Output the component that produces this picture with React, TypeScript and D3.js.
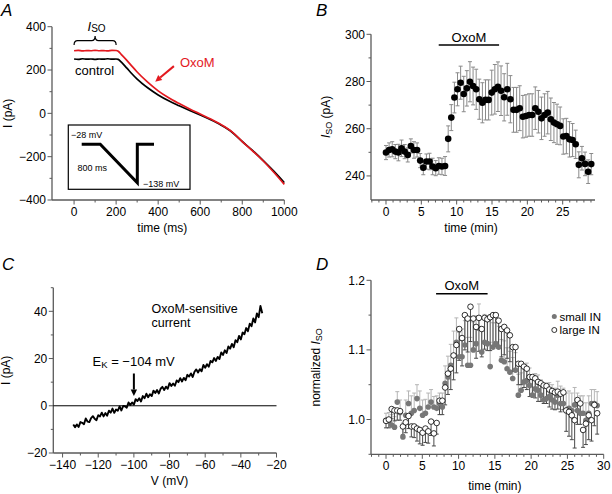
import React from 'react'
import * as d3 from 'd3'

const FONT = '"Liberation Sans", Arial, Helvetica, sans-serif'
const RED = '#e3191f'
const AXIS = '#5a5a5a'
const TICK_FS = 12
const LABEL_FS = 12
const NOTE_FS = 13

// ---- Panel A: ramp currents (ms, pA)
const rampTime = [0, 20, 40, 60, 80, 100, 120, 140, 160, 180, 200, 210, 225, 250, 275, 300, 350, 400, 450, 500, 550, 600, 650, 700, 750, 800, 850, 900, 950, 1000]
const controlCurrent = [251, 249, 252, 250, 251, 249, 251, 250, 252, 250, 251, 249, 236, 210, 183, 158, 118, 85, 58, 35, 13, -8, -30, -55, -86, -130, -172, -218, -267, -320]
const oxomCurrent = [289, 291, 288, 290, 289, 291, 289, 290, 288, 291, 290, 287, 271, 246, 218, 191, 144, 104, 72, 45, 20, -3, -26, -52, -84, -130, -174, -220, -272, -328]
const aTimeTicks = [0, 200, 400, 600, 800, 1000]
const aCurrentTicks = [-400, -200, 0, 200, 400]
// schematic voltage protocol of the inset
const protocolTime = [0, 50, 150, 150, 195]
const protocolVoltage = [-28, -28, -138, -28, -28]

// ---- Panel B: I_SO time course (pA)
const bInterval = 0.44
const bValues = [249.9, 251, 251.3, 250.3, 249.9, 251.7, 250.3, 248.9, 252.7, 251, 251, 246.5, 243.5, 246.1, 246.1, 244, 243.3, 244.2, 244, 244.2,
  255.7, 264.7, 273.2, 276.7, 279.5, 274.7, 277.1, 279.9, 278.1, 276.7, 272.5, 271, 272.2, 272.2, 275.3, 276.7, 277.8, 276.1, 273.3, 276.7,
  272.5, 268, 268, 268.7, 265.1, 265.4, 265.8, 265.8, 268.7, 267.2, 264.4, 265.8, 266.8, 264, 262.6, 261.9, 261.2, 256.7, 256.9, 255.5,
  255.2, 253.4, 244.7, 247.5, 245.1, 241.8, 245]
const bErrors = [3, 3, 3.2, 3, 3.5, 3.5, 3, 3, 3, 3.5, 3, 3, 3, 3.2, 3.5, 3.5, 3.2, 3.5, 3.5, 4,
  5.5, 5.5, 6.5, 7, 7, 7.5, 7.5, 8.5, 8, 8.5, 8.5, 8.5, 8.5, 8.5, 9.5, 10.5, 10.5, 10.5, 10, 11,
  10, 9.5, 9.5, 9.5, 9, 9, 9, 9, 9, 9, 9, 9, 9, 9, 8.5, 8.5, 8, 7.5, 7.5, 7.5,
  7, 6, 5.5, 5, 5, 5, 4.5]
const bTimeTicks = [0, 5, 10, 15, 20, 25]
const bCurrentTicks = [240, 260, 280, 300]
const bOxoM = [7.46, 16.0]

// ---- Panel C: OxoM-sensitive current (1 mV steps)
const cVoltageStart = -134
const cCurrent = [-7.9, -9.1, -7.9, -9.0, -6.9, -7.2, -7.8, -5.4, -6.7, -6.9,
  -5.2, -4.4, -5.5, -6.1, -4.0, -4.5, -2.9, -4.5, -3.1, -4.2,
  -2.1, -2.9, -1.2, -3.0, -1.6, -2.1, -0.3, -2.0, -0.1, -0.2,
  -0.8, 1.4, 0.3, 1.4, 0.5, 2.8, 2.0, 3.2, 1.8, 4.1,
  3.2, 5.1, 3.6, 4.9, 4.1, 6.4, 5.4, 6.7, 5.2, 7.2,
  8.0, 6.7, 8.1, 7.2, 9.6, 8.4, 9.4, 8.5, 10.7, 10.0,
  11.7, 10.3, 11.8, 10.8, 13.1, 12.4, 13.7, 12.2, 14.4, 15.4,
  14.1, 15.5, 14.6, 17.3, 16.1, 17.6, 16.5, 19.0, 18.4, 20.2,
  19.0, 20.7, 19.8, 22.6, 21.5, 23.5, 22.3, 25.1, 24.2, 26.2,
  24.8, 27.8, 26.9, 29.6, 28.1, 31.0, 30.3, 32.9, 31.6, 34.8,
  33.7, 37.0, 35.3, 39.1, 37.5, 42.3, 39.2]
const cVoltageTicks = [-140, -120, -100, -80, -60, -40, -20]
const cCurrentTicks = [-20, 0, 20, 40]

// ---- Panel D: normalized I_SO
const dInterval = 0.388
const dSmall = [0.999, 0.998, 0.992, 0.989, 1.025, 1.010, 0.975, 1.006, 1.023, 1.009,
  1.013, 1.030, 1.016, 1.006, 1.009, 1.018, 1.025, 1.018, 1.016, 1.023,
  1.018, 1.052, 1.061, 1.078, 1.092, 1.111, 1.090, 1.090, 1.107, 1.078,
  1.078, 1.100, 1.109, 1.131, 1.097, 1.111, 1.109, 1.076, 1.104, 1.109,
  1.104, 1.085, 1.083, 1.073, 1.068, 1.059, 1.071, 1.035, 1.042, 1.054,
  1.056, 1.049, 1.035, 1.044, 1.042, 1.035, 1.028, 1.030, 1.033, 1.028,
  1.025, 1.035, 1.023, 1.023, 1.013, 1.016, 1.013, 1.021, 1.013, 1.009,
  1.009, 0.999, 1.009, 1.023, 1.023, 1.020]
const dSmallErr = [0.010, 0.012, 0.015, 0.015, 0.015, 0.018, 0.020, 0.022, 0.018, 0.025,
  0.025, 0.020, 0.025, 0.022, 0.020, 0.020, 0.018, 0.015, 0.018, 0.015,
  0.020, 0.025, 0.030, 0.030, 0.035, 0.035, 0.035, 0.040, 0.035, 0.040,
  0.040, 0.040, 0.040, 0.035, 0.035, 0.040, 0.040, 0.035, 0.035, 0.030,
  0.030, 0.030, 0.030, 0.030, 0.030, 0.030, 0.025, 0.030, 0.025, 0.025,
  0.025, 0.025, 0.025, 0.022, 0.022, 0.022, 0.022, 0.022, 0.020, 0.022,
  0.020, 0.020, 0.025, 0.022, 0.025, 0.025, 0.025, 0.025, 0.025, 0.025,
  0.025, 0.025, 0.025, 0.020, 0.020, 0.020]
const dLarge = [0.998, 1.000, 1.015, 1.013, 1.013, 1.012, 0.990, 0.996, 1.005, 0.990,
  0.990, 0.987, 0.985, 0.981, 0.987, 0.983, 0.997, 0.980, 0.995, 1.027,
  1.027, 1.046, 1.066, 1.073, 1.092, 1.107, 1.130, 1.117, 1.150, 1.145,
  1.162, 1.145, 1.133, 1.146, 1.130, 1.146, 1.144, 1.147, 1.150, 1.150,
  1.142, 1.130, 1.133, 1.128, 1.121, 1.104, 1.104, 1.080, 1.080, 1.076,
  1.073, 1.061, 1.061, 1.059, 1.054, 1.052, 1.049, 1.048, 1.043, 1.041,
  1.039, 1.040, 1.037, 1.039, 1.013, 1.011, 1.006, 0.999, 1.028, 1.023,
  0.985, 0.994, 1.006, 0.999, 1.021, 1.009]
const dLargeErr = [0.010, 0.012, 0.014, 0.015, 0.014, 0.013, 0.012, 0.015, 0.018, 0.015,
  0.016, 0.018, 0.020, 0.018, 0.020, 0.017, 0.020, 0.018, 0.016, 0.020,
  0.020, 0.025, 0.030, 0.030, 0.035, 0.040, 0.045, 0.040, 0.050, 0.048,
  0.050, 0.045, 0.045, 0.048, 0.040, 0.045, 0.045, 0.048, 0.045, 0.045,
  0.040, 0.040, 0.040, 0.040, 0.038, 0.035, 0.035, 0.030, 0.030, 0.030,
  0.030, 0.028, 0.028, 0.028, 0.028, 0.026, 0.026, 0.025, 0.025, 0.026,
  0.025, 0.025, 0.026, 0.025, 0.030, 0.035, 0.035, 0.040, 0.035, 0.030,
  0.025, 0.030, 0.035, 0.030, 0.030, 0.030]
const dTimeTicks = [0, 5, 10, 15, 20, 25, 30]
const dNormTicks = [1.0, 1.1, 1.2]
const dOxoM = [6.9, 14.0]

const minus = (v: number) => (v < 0 ? `\u2212${Math.abs(v)}` : `${v}`)

type Lin = d3.ScaleLinear<number, number>

function YAxis({ scale, x, majors, minors, fmt = minus }: { scale: Lin; x: number; majors: number[]; minors: number[]; fmt?: (v: number) => string }) {
  const [r0, r1] = scale.range()
  return (
    <g>
      <line x1={x} x2={x} y1={r0} y2={r1} stroke={AXIS} strokeWidth={1.3} />
      {minors.map((v) => (
        <line key={'m' + v} x1={x - 2.5} x2={x} y1={scale(v)} y2={scale(v)} stroke={AXIS} strokeWidth={1} />
      ))}
      {majors.map((v) => (
        <g key={v}>
          <line x1={x - 4.5} x2={x} y1={scale(v)} y2={scale(v)} stroke={AXIS} strokeWidth={1} />
          <text x={x - 6} y={scale(v)} dy="0.36em" textAnchor="end" fontSize={TICK_FS}>{fmt(v)}</text>
        </g>
      ))}
    </g>
  )
}

function XAxis({ scale, y, majors, minors, fmt = minus }: { scale: Lin; y: number; majors: number[]; minors: number[]; fmt?: (v: number) => string }) {
  const [r0, r1] = scale.range()
  return (
    <g>
      <line x1={r0} x2={r1} y1={y} y2={y} stroke={AXIS} strokeWidth={1.3} />
      {minors.map((v) => (
        <line key={'m' + v} x1={scale(v)} x2={scale(v)} y1={y} y2={y + 2.5} stroke={AXIS} strokeWidth={1} />
      ))}
      {majors.map((v) => (
        <g key={v}>
          <line x1={scale(v)} x2={scale(v)} y1={y} y2={y + 4.5} stroke={AXIS} strokeWidth={1} />
          <text x={scale(v)} y={y + 16} textAnchor="middle" fontSize={TICK_FS}>{fmt(v)}</text>
        </g>
      ))}
    </g>
  )
}

function Arrow({ x1, y1, x2, y2, color }: { x1: number; y1: number; x2: number; y2: number; color: string }) {
  const a = Math.atan2(y2 - y1, x2 - x1)
  const L = 6.5
  const W = 3.2
  const bx = x2 - L * Math.cos(a)
  const by = y2 - L * Math.sin(a)
  const px = -Math.sin(a) * W
  const py = Math.cos(a) * W
  return (
    <g>
      <line x1={x1} y1={y1} x2={bx} y2={by} stroke={color} strokeWidth={2} />
      <polygon points={`${x2},${y2} ${bx + px},${by + py} ${bx - px},${by - py}`} fill={color} />
    </g>
  )
}

export default function App() {
  // Panel A
  const xA = d3.scaleLinear().domain([-105, 1000]).range([52, 284.3])
  const yA = d3.scaleLinear().domain([-400, 400]).range([200, 26.7])
  const lineA = d3.line<number>().x((_, i) => xA(rampTime[i])).y((d) => yA(d)).curve(d3.curveMonotoneX)
  const xP = d3.scaleLinear().domain([0, 195]).range([81.7, 154])
  const yP = d3.scaleLinear().domain([-138, -28]).range([182.7, 144.3])
  const protoLine = d3.line<number>().x((_, i) => xP(protocolTime[i])).y((d) => yP(d))
  const bx0 = xA(0), bx1 = xA(200), bxm = (bx0 + bx1) / 2
  const braceY = 40.7
  const brace = `M${bx0},45 Q${bx0},${braceY} ${bx0 + 3.5},${braceY} L${bxm - 3.5},${braceY} Q${bxm},${braceY} ${bxm},36 Q${bxm},${braceY} ${bxm + 3.5},${braceY} L${bx1 - 3.5},${braceY} Q${bx1},${braceY} ${bx1},45`

  // Panel B
  const xB = d3.scaleLinear().domain([-2.12, 29.57]).range([371, 595])
  const yB = d3.scaleLinear().domain([229.8, 300]).range([200, 34.3])

  // Panel C
  const xC = d3.scaleLinear().domain([-145.2, -20]).range([53.3, 276.5])
  const yC = d3.scaleLinear().domain([-20, 50]).range([453, 287.7])
  const lineC = d3.line<number>().x((_, i) => xC(cVoltageStart + i)).y((d) => yC(d))

  // Panel D
  const xD = d3.scaleLinear().domain([-2.07, 30]).range([371, 603.7])
  const yD = d3.scaleLinear().domain([0.95, 1.2]).range([454.3, 280.3])

  const cap = 2

  return (
    <svg width={612} height={494} style={{ position: 'absolute', left: 0, top: 0, background: '#fff' }} fontFamily={FONT}>
      {/* ---------- A ---------- */}
      <text x={1} y={16} fontSize={17} fontStyle="italic">A</text>
      <YAxis scale={yA} x={52} majors={aCurrentTicks} minors={d3.range(-300, 400, 200)} />
      <XAxis scale={xA} y={200} majors={aTimeTicks} minors={d3.range(100, 1000, 200)} />
      <text transform={`translate(12,${yA(0)}) rotate(-90)`} textAnchor="middle" fontSize={LABEL_FS}>I (pA)</text>
      <text x={xA(420)} y={232} textAnchor="middle" fontSize={LABEL_FS}>time (ms)</text>
      <path d={lineA(controlCurrent) ?? ''} fill="none" stroke="#000" strokeWidth={1.7} />
      <path d={lineA(oxomCurrent) ?? ''} fill="none" stroke={RED} strokeWidth={1.7} />
      <path d={brace} fill="none" stroke="#000" strokeWidth={1.2} />
      <text x={87.5} y={30.5} fontSize={NOTE_FS} fontStyle="italic">I<tspan fontStyle="normal" fontSize={10} dy={1.5}>SO</tspan></text>
      <text x={75} y={74.5} fontSize={NOTE_FS}>control</text>
      <text x={180} y={67} fontSize={NOTE_FS} fill={RED}>OxoM</text>
      <Arrow x1={xA(475)} y1={yA(218)} x2={xA(386)} y2={yA(146)} color={RED} />
      <rect x={68.3} y={125} width={121.7} height={64.3} fill="#fff" stroke="#000" strokeWidth={1.2} />
      <path d={protoLine(protocolVoltage) ?? ''} fill="none" stroke="#000" strokeWidth={3} strokeLinejoin="miter" />
      <text x={71} y={138} fontSize={9}>{'\u221228 mV'}</text>
      <text x={77.5} y={171} fontSize={9}>800 ms</text>
      <text x={143} y={186.5} fontSize={9}>{'\u2212138 mV'}</text>

      {/* ---------- B ---------- */}
      <text x={316} y={16} fontSize={17} fontStyle="italic">B</text>
      <YAxis scale={yB} x={371} majors={bCurrentTicks} minors={[250, 270, 290]} />
      <XAxis scale={xB} y={200} majors={bTimeTicks} minors={d3.range(-2, 30, 1).filter((v) => v % 5 !== 0)} />
      <text transform={`translate(330,${yB(265)}) rotate(-90)`} textAnchor="middle" fontSize={LABEL_FS}>
        <tspan fontStyle="italic">I</tspan><tspan fontSize={9} dy={2}>SO</tspan><tspan dy={-2}> (pA)</tspan>
      </text>
      <text x={471} y={232} textAnchor="middle" fontSize={LABEL_FS}>time (min)</text>
      <line x1={xB(bOxoM[0])} x2={xB(bOxoM[1])} y1={45} y2={45} stroke="#000" strokeWidth={1.5} />
      <text x={(xB(bOxoM[0]) + xB(bOxoM[1])) / 2} y={42} textAnchor="middle" fontSize={NOTE_FS}>OxoM</text>
      {bValues.map((v, i) => {
        const x = xB(i * bInterval)
        const e = bErrors[i] ?? 3
        return (
          <g key={'be' + i} stroke="#8a8a8a" strokeWidth={1}>
            <line x1={x} x2={x} y1={yB(v - e)} y2={yB(v + e)} />
            <line x1={x - cap} x2={x + cap} y1={yB(v + e)} y2={yB(v + e)} />
            <line x1={x - cap} x2={x + cap} y1={yB(v - e)} y2={yB(v - e)} />
          </g>
        )
      })}
      {bValues.map((v, i) => (
        <circle key={'bp' + i} cx={xB(i * bInterval)} cy={yB(v)} r={3.3} fill="#000" />
      ))}

      {/* ---------- C ---------- */}
      <text x={2} y={270} fontSize={17} fontStyle="italic">C</text>
      <YAxis scale={yC} x={53.3} majors={cCurrentTicks} minors={[-10, 10, 30, 50]} />
      <XAxis scale={xC} y={453} majors={cVoltageTicks} minors={[-130, -110, -90, -70, -50, -30]} />
      <line x1={53.3} x2={276.5} y1={yC(0)} y2={yC(0)} stroke="#000" strokeWidth={1} />
      <text transform={`translate(10,${yC(15)}) rotate(-90)`} textAnchor="middle" fontSize={LABEL_FS}>I (pA)</text>
      <text x={xC(-80)} y={485} textAnchor="middle" fontSize={LABEL_FS}>V (mV)</text>
      <path d={lineC(cCurrent) ?? ''} fill="none" stroke="#000" strokeWidth={1.9} strokeLinejoin="round" />
      <text x={151.5} y={312.5} fontSize={12.5}>OxoM-sensitive</text>
      <text x={151.5} y={326.5} fontSize={12.5}>current</text>
      <text x={92.5} y={366} fontSize={NOTE_FS}>E<tspan fontSize={9.5} dy={2}>K</tspan><tspan dy={-2}>{' = \u2212104 mV'}</tspan></text>
      <Arrow x1={xC(-100)} y1={373.5} x2={xC(-100)} y2={396} color="#000" />

      {/* ---------- D ---------- */}
      <text x={316} y={270} fontSize={17} fontStyle="italic">D</text>
      <YAxis scale={yD} x={371} majors={dNormTicks} minors={[0.95, 1.05, 1.15]} fmt={(v) => v.toFixed(1)} />
      <XAxis scale={xD} y={454.3} majors={dTimeTicks} minors={d3.range(-2, 30, 1).filter((v) => v % 5 !== 0)} />
      <text transform={`translate(320,${yD(1.075)}) rotate(-90)`} textAnchor="middle" fontSize={LABEL_FS}>
        normalized <tspan fontStyle="italic">I</tspan><tspan fontSize={9} dy={2}>SO</tspan>
      </text>
      <text x={xD(15)} y={490} textAnchor="middle" fontSize={LABEL_FS}>time (min)</text>
      <line x1={xD(dOxoM[0])} x2={xD(dOxoM[1])} y1={293.7} y2={293.7} stroke="#000" strokeWidth={1.5} />
      <text x={(xD(dOxoM[0]) + xD(dOxoM[1])) / 2} y={289.7} textAnchor="middle" fontSize={NOTE_FS}>OxoM</text>
      {dSmall.map((v, i) => {
        const x = xD(i * dInterval)
        const e = dSmallErr[i] ?? 0.02
        return (
          <g key={'se' + i} stroke="#b5b5b5" strokeWidth={1}>
            <line x1={x} x2={x} y1={yD(v)} y2={yD(v + e)} />
            <line x1={x - cap} x2={x + cap} y1={yD(v + e)} y2={yD(v + e)} />
          </g>
        )
      })}
      {dLarge.map((v, i) => {
        const x = xD(i * dInterval)
        const e = dLargeErr[i] ?? 0.02
        return (
          <g key={'le' + i} stroke="#4a4a4a" strokeWidth={1}>
            <line x1={x} x2={x} y1={yD(v)} y2={yD(v - e)} />
            <line x1={x - cap} x2={x + cap} y1={yD(v - e)} y2={yD(v - e)} />
          </g>
        )
      })}
      {dSmall.map((v, i) => (
        <circle key={'sp' + i} cx={xD(i * dInterval)} cy={yD(v)} r={2.8} fill="#777" />
      ))}
      {dLarge.map((v, i) => (
        <circle key={'lp' + i} cx={xD(i * dInterval)} cy={yD(v)} r={2.8} fill="#fff" stroke="#000" strokeWidth={0.8} />
      ))}
      <circle cx={554.3} cy={316.5} r={2.5} fill="#777" />
      <text x={559.5} y={320.5} fontSize={11.5}>small IN</text>
      <circle cx={554.3} cy={330} r={2.5} fill="#fff" stroke="#000" strokeWidth={0.8} />
      <text x={559.5} y={334} fontSize={11.5}>large IN</text>
    </svg>
  )
}
